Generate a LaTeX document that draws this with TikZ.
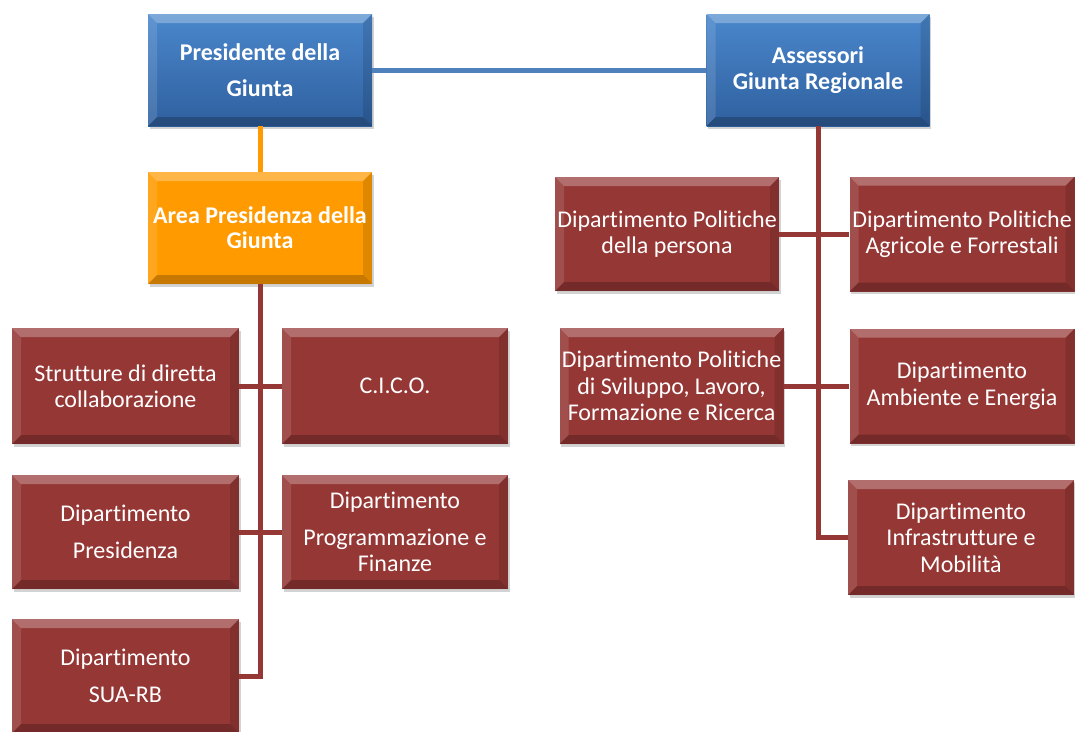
\documentclass[tikz,border=0pt]{standalone}
\usepackage{fontspec}
\setmainfont{Carlito}[Ligatures=NoCommon]
\usetikzlibrary{shadows}
\definecolor{bluebox}{HTML}{3B73B9}
\definecolor{bluetop}{HTML}{4A87CC}
\definecolor{bluebot}{HTML}{2F609F}
\definecolor{orangebox}{HTML}{FF9A00}
\definecolor{redbox}{HTML}{953735}
\definecolor{blueline}{HTML}{4F81BD}
\definecolor{orangeline}{HTML}{FF9A00}
\tikzset{
  bevel/.style={path picture={
    \fill[white,opacity=0.28] (path picture bounding box.north west) -- (path picture bounding box.north east) -- ([xshift=-9pt,yshift=-9pt]path picture bounding box.north east) -- ([xshift=9pt,yshift=-9pt]path picture bounding box.north west) -- cycle;
    \fill[white,opacity=0.12] (path picture bounding box.north west) -- ([xshift=9pt,yshift=-9pt]path picture bounding box.north west) -- ([xshift=9pt,yshift=9pt]path picture bounding box.south west) -- (path picture bounding box.south west) -- cycle;
    \fill[black,opacity=0.12] (path picture bounding box.north east) -- ([xshift=-9pt,yshift=-9pt]path picture bounding box.north east) -- ([xshift=-9pt,yshift=9pt]path picture bounding box.south east) -- (path picture bounding box.south east) -- cycle;
    \fill[black,opacity=0.22] (path picture bounding box.south west) -- ([xshift=9pt,yshift=9pt]path picture bounding box.south west) -- ([xshift=-9pt,yshift=9pt]path picture bounding box.south east) -- (path picture bounding box.south east) -- cycle;
  }},
  box/.style={rectangle, inner sep=0pt, align=center, text=white, bevel,
    font=\fontsize{24}{26.5}\selectfont,
    drop shadow={opacity=0.35, shadow xshift=1.5pt, shadow yshift=-2.5pt}},
  bluenode/.style={box, top color=bluetop, bottom color=bluebot, font=\fontsize{24}{26.5}\selectfont\bfseries},
  orangenode/.style={box, fill=orangebox, font=\fontsize{24}{25}\selectfont\bfseries},
  rednode/.style={box, fill=redbox},
  bline/.style={draw=blueline, line width=5pt},
  oline/.style={draw=orangeline, line width=5pt},
  rline/.style={draw=redbox, line width=5pt},
}
\begin{document}
\begin{tikzpicture}[x=1pt,y=-1pt]
\useasboundingbox (0,0) rectangle (1075,731);
\node[bluenode, minimum width=224, minimum height=112] (pres) at (260,70) {Presidente della\\[10pt]Giunta};
\node[bluenode, minimum width=223, minimum height=112] (ass) at (818,70) {Assessori\\Giunta Regionale};
\node[orangenode, minimum width=224, minimum height=112] (area) at (260,228) {Area Presidenza della\\Giunta};
\draw[bline] (pres.east) -- (ass.west);
\draw[oline] (pres.south) -- (area.north);
\node[rednode, minimum width=227, minimum height=116] (strut) at (125.5,386) {Strutture di diretta\\collaborazione};
\node[rednode, minimum width=226, minimum height=116] (cico) at (395,386) {C.I.C.O.};
\node[rednode, minimum width=227, minimum height=114] (dpres) at (125.5,532) {Dipartimento\\[10pt]Presidenza};
\node[rednode, minimum width=226, minimum height=114] (prog) at (395,532) {Dipartimento\\[10pt]Programmazione e\\Finanze};
\node[rednode, minimum width=227, minimum height=114] (sua) at (125.5,676) {Dipartimento\\[10pt]SUA-RB};
\node[rednode, minimum width=224, minimum height=114] (pers) at (667,234) {Dipartimento Politiche\\della persona};
\node[rednode, minimum width=225, minimum height=115] (agri) at (962,234) {Dipartimento Politiche\\Agricole e Forrestali};
\node[rednode, minimum width=224, minimum height=116] (svil) at (671.5,386) {Dipartimento Politiche\\di Sviluppo, Lavoro,\\Formazione e Ricerca};
\node[rednode, minimum width=225, minimum height=115] (amb) at (962,386) {Dipartimento\\Ambiente e Energia};
\node[rednode, minimum width=226, minimum height=115] (infra) at (961,537.5) {Dipartimento\\Infrastrutture e\\Mobilità};
\draw[rline] (area.south) |- (sua.east);
\draw[rline] (strut.east) -- (cico.west);
\draw[rline] (dpres.east) -- (prog.west);
\draw[rline] (ass.south) |- (infra.west);
\draw[rline] (pers.east) -- (agri.west);
\draw[rline] (svil.east) -- (amb.west);
\end{tikzpicture}
\end{document}
